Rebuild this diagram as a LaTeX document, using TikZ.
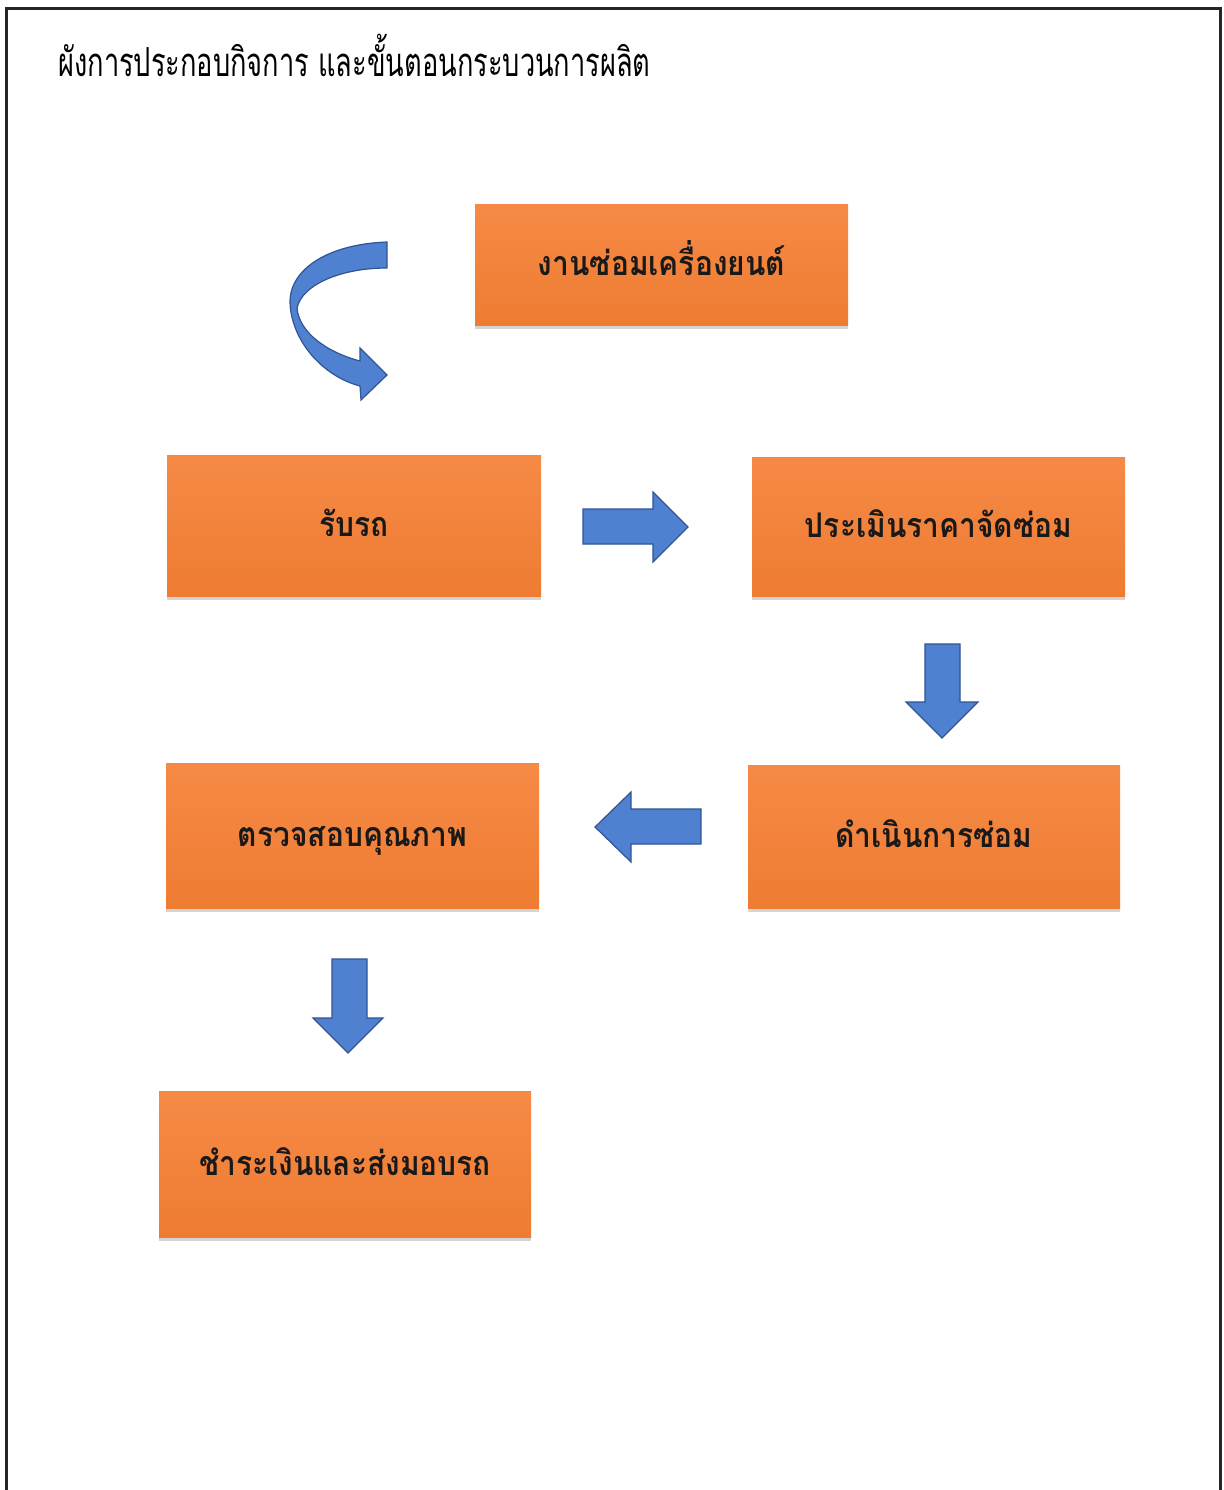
\documentclass[tikz,border=0pt]{standalone}
\usepackage{fontspec}
\newfontfamily\thaifont[Script=Thai,FakeStretch=0.88]{Loma}
\newfontfamily\thaititle[Script=Thai,FakeStretch=0.68]{Loma}
\usetikzlibrary{shadows}
\definecolor{boxtop}{RGB}{245,138,70}
\definecolor{boxbot}{RGB}{239,124,50}
\definecolor{arrowfill}{RGB}{79,129,208}
\definecolor{arrowedge}{RGB}{47,85,151}
\tikzset{
  box/.style={rectangle, top color=boxtop, bottom color=boxbot, draw=none,
    drop shadow={shadow xshift=0pt, shadow yshift=-1.8pt, opacity=0.3, fill=black!55},
    text height=12pt, text depth=1pt,
    font=\thaifont\bfseries\fontsize{17}{20}\selectfont, text=black!90},
  blockarrow/.style={fill=arrowfill, draw=arrowedge, line width=0.6pt, line join=miter},
  frame/.style={line width=1.5pt, draw=black!85}
}
\begin{document}
\begin{tikzpicture}[x=0.5pt,y=-0.5pt]
\useasboundingbox (0,0) rectangle (1223,1490);
\fill[white] (0,0) rectangle (1223,1490);
% frame
\draw[frame] (6,1490) -- (6,8) -- (1220,8) -- (1220,1490);
% title
\node[anchor=base west, inner sep=0pt, font=\thaititle\fontsize{20}{24}\selectfont] (title) at (58,76) {ผังการประกอบกิจการ และขั้นตอนกระบวนการผลิต};
% boxes
\node[box, minimum width=186.5pt, minimum height=60.5pt] (n1) at (661.5,264.5) {งานซ่อมเครื่องยนต์};
\node[box, minimum width=187pt, minimum height=70.5pt] (n2) at (354,525.5) {รับรถ};
\node[box, minimum width=186.5pt, minimum height=69.5pt] (n3) at (938.5,526.5) {ประเมินราคาจัดซ่อม};
\node[box, minimum width=186pt, minimum height=71.5pt] (n4) at (934,836.5) {ดำเนินการซ่อม};
\node[box, minimum width=186.5pt, minimum height=72.5pt] (n5) at (352.5,835.5) {ตรวจสอบคุณภาพ};
\node[box, minimum width=186pt, minimum height=73pt] (n6) at (345,1164) {ชำระเงินและส่งมอบรถ};
% curved arrow
\draw[blockarrow] (387,242) .. controls (330,244) and (290,268) .. (290,302)
  .. controls (291,340) and (322,376) .. (360,386)
  -- (361,400) -- (387,375) -- (360,348) -- (360,361)
  .. controls (326,352) and (299,332) .. (297,308)
  .. controls (302,285) and (340,268) .. (387,268) -- cycle;
% straight block arrows
\draw[blockarrow] (583,509) -- (653,509) -- (653,492) -- (688,527) -- (653,562) -- (653,544) -- (583,544) -- cycle;
\draw[blockarrow] (925,644) -- (960,644) -- (960,702) -- (978,702) -- (942,738) -- (906,702) -- (925,702) -- cycle;
\draw[blockarrow] (701,809) -- (631,809) -- (631,792) -- (595,827) -- (631,862) -- (631,844) -- (701,844) -- cycle;
\draw[blockarrow] (332,959) -- (367,959) -- (367,1018) -- (383,1018) -- (348,1053) -- (313,1018) -- (332,1018) -- cycle;
\end{tikzpicture}
\end{document}
